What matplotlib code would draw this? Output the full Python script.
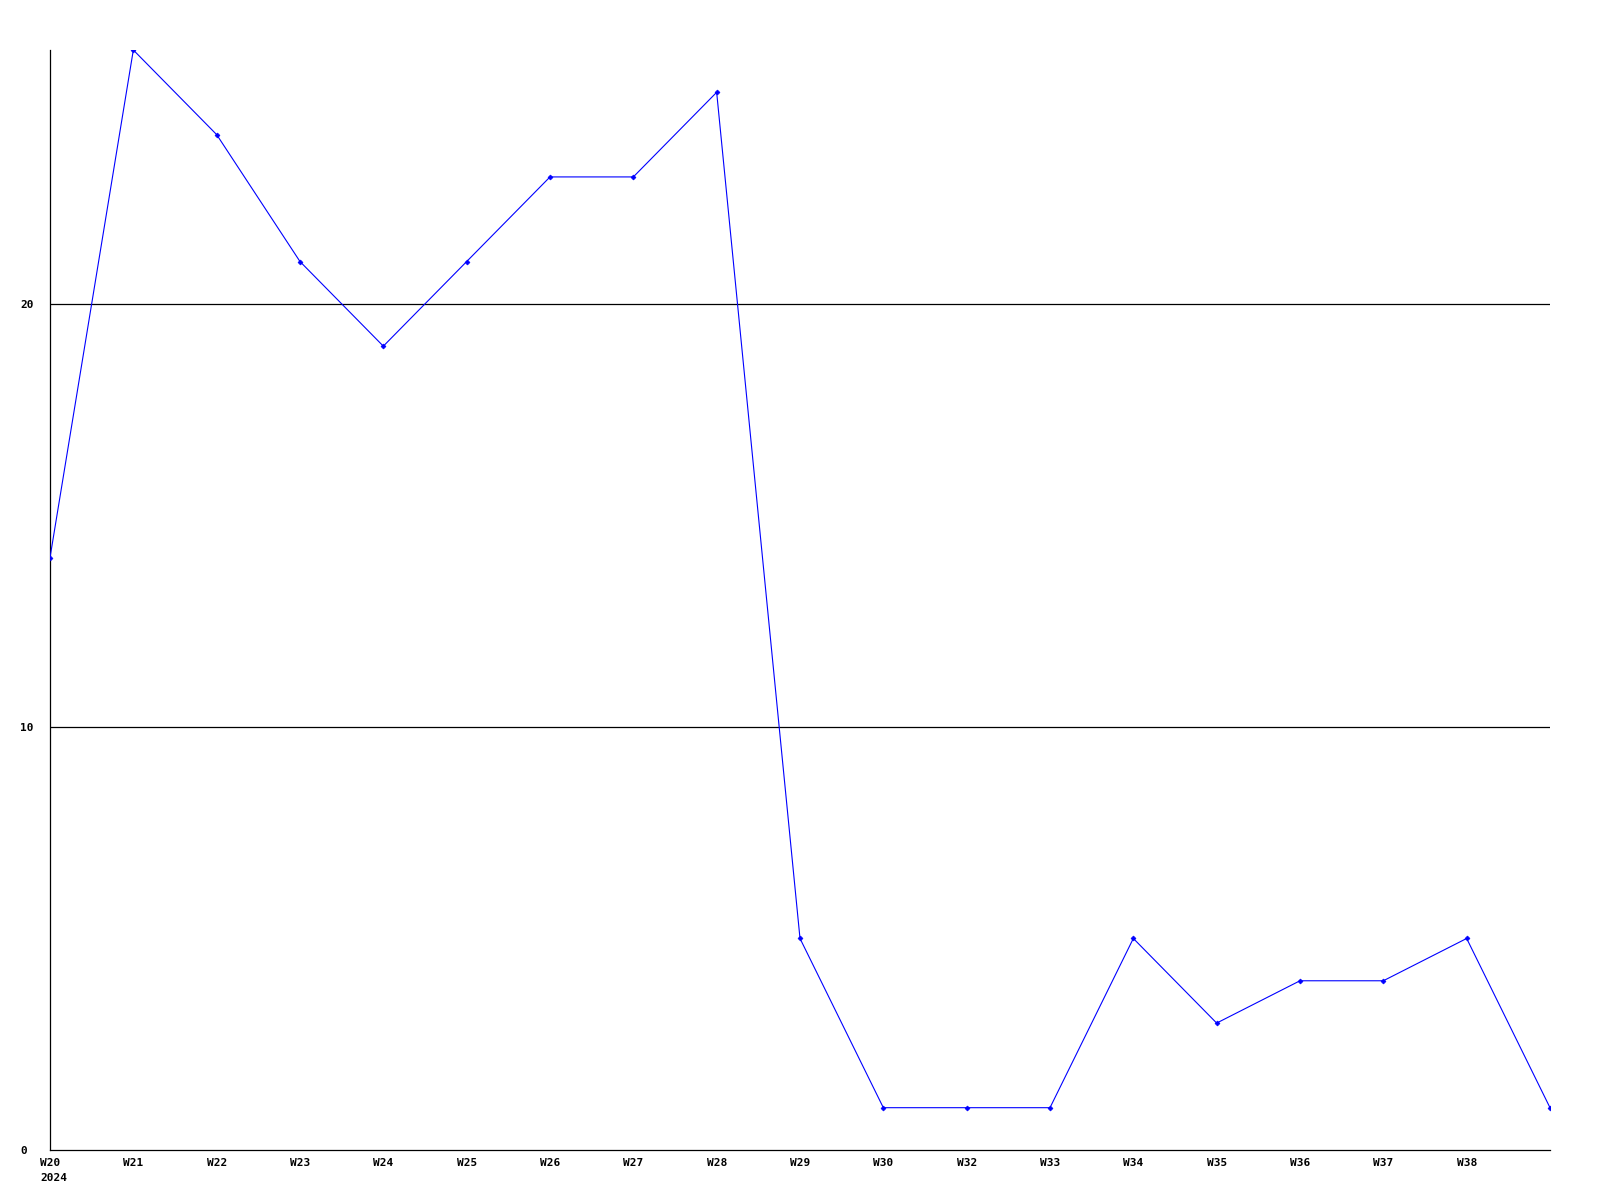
import matplotlib
matplotlib.use("Agg")
import matplotlib.pyplot as plt

weeks = ["W20", "W21", "W22", "W23", "W24", "W25", "W26", "W27", "W28", "W29",
         "W30", "W32", "W33", "W34", "W35", "W36", "W37", "W38", ""]
values = [14, 26, 24, 21, 19, 21, 23, 23, 25, 5, 1, 1, 1, 5, 3, 4, 4, 5, 1]
year_label = "2024"
y_ticks = [0, 10, 20]

font = dict(family="DejaVu Sans Mono", fontweight="bold", fontsize=8)

fig = plt.figure(figsize=(16, 12), dpi=100)
ax = fig.add_axes([50/1600, 50/1200, 1500/1600, 1100/1200])
x = list(range(len(values)))
ax.plot(x, values, color="#0000ff", linewidth=0.8, marker="D", markersize=2.5,
        markeredgewidth=0.5, zorder=3)
ax.set_xlim(0, len(values) - 1)
ax.set_ylim(0, 26)
for t in y_ticks[1:]:
    ax.axhline(t, color="black", linewidth=0.9, zorder=1)
for s in ["top", "right"]:
    ax.spines[s].set_visible(False)
for s in ["left", "bottom"]:
    ax.spines[s].set_color("black")
    ax.spines[s].set_linewidth(0.9)
ax.set_xticks(x)
ax.set_xticklabels(weeks, **font)
ax.set_yticks(y_ticks)
ax.set_yticklabels([str(t) for t in y_ticks], **font, ha="left")
ax.tick_params(axis="y", length=0, pad=21.5)
ax.tick_params(axis="x", length=0, pad=6)
ax.text(-10/1500*18, -28/1100*26, year_label, ha="left", va="center", **font)
fig.savefig("out.png", dpi=100, facecolor="white")
